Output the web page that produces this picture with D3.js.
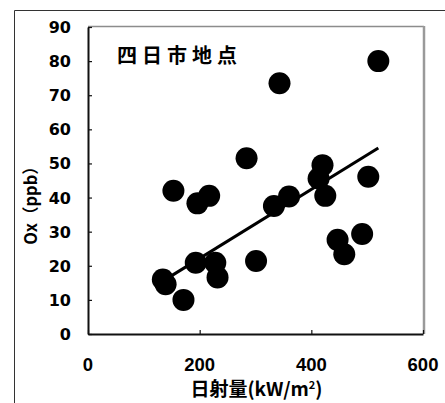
<!DOCTYPE html>
<html>
<head>
<meta charset="utf-8">
<script src="https://cdn.jsdelivr.net/npm/d3@7"></script>
<style>
  html, body { margin: 0; padding: 0; background: #fff; }
  svg { display: block; }
</style>
</head>
<body>
<svg id="chart" width="445" height="403"></svg>
<script>
// Daily solar radiation (kW/m²) vs. oxidant concentration Ox (ppb), Yokkaichi station
const radiation = [520, 343, 284, 153, 196, 217, 333, 360, 420, 413, 425, 502, 447, 459, 491, 301, 193, 228, 232, 134, 139, 171];
const oxidant   = [80, 73.5, 51.5, 42, 38.3, 40.5, 37.5, 40.3, 49.5, 45.6, 40.5, 46.1, 27.6, 23.4, 29.3, 21.4, 20.9, 20.9, 16.6, 16.0, 14.6, 10];

// Linear trend line endpoints (x from min to max radiation)
const trendX = [134, 520];
const trendY = [15.5, 54.5];

const xTicks = [0, 200, 400, 600];
const yTicks = [0, 10, 20, 30, 40, 50, 60, 70, 80, 90];
const title = "四日市地点";
const xTitle = "日射量(kW/m";
const yTitle = "Ox（ppb）";

const svg = d3.select("#chart");
const plot = { left: 88, right: 423, top: 27, bottom: 334 };

const x = d3.scaleLinear().domain([0, 600]).range([plot.left, plot.right]);
const y = d3.scaleLinear().domain([0, 90]).range([plot.bottom, plot.top]);

const latinFont = "'Liberation Sans', Arial, sans-serif";
const wideFont = "'DejaVu Sans', sans-serif";
const cjkFont = "'Noto Sans CJK JP', 'Noto Sans CJK SC', sans-serif";

// Outer frame (left and top edges)
svg.append("path")
  .attr("d", "M14.5,403 L14.5,10.5 L445,10.5")
  .attr("fill", "none").attr("stroke", "#333").attr("stroke-width", 1);

// Plot area border: grey top and right
svg.append("line")
  .attr("x1", plot.left).attr("x2", plot.right + 1)
  .attr("y1", plot.top - 0.5).attr("y2", plot.top - 0.5)
  .attr("stroke", "#8c8c8c").attr("stroke-width", 1.5);
svg.append("line")
  .attr("x1", plot.right + 1).attr("x2", plot.right + 1)
  .attr("y1", plot.top - 1).attr("y2", plot.bottom)
  .attr("stroke", "#9a9a9a").attr("stroke-width", 2.5);

// Axes with inward ticks
const xAxis = svg.append("g")
  .attr("transform", `translate(0,${plot.bottom})`)
  .call(d3.axisBottom(x).tickValues(xTicks).tickSizeInner(-4).tickSizeOuter(0).tickFormat(""));
const yAxis = svg.append("g")
  .attr("transform", `translate(${plot.left},0)`)
  .call(d3.axisLeft(y).tickValues(yTicks).tickSizeInner(-4).tickSizeOuter(0).tickFormat(""));
[xAxis, yAxis].forEach(g => {
  g.select(".domain").attr("stroke", "#111").attr("stroke-width", 2);
  g.selectAll(".tick line").attr("stroke", "#111").attr("stroke-width", 1.2);
});

// Tick labels
svg.append("g").selectAll("text").data(yTicks).join("text")
  .attr("x", 71).attr("y", d => y(d) + 0.5)
  .attr("text-anchor", "end").attr("dominant-baseline", "central")
  .attr("font-family", wideFont).attr("font-weight", "bold").attr("font-size", 16)
  .attr("fill", "#000").text(d => d);

svg.append("g").selectAll("text").data(xTicks).join("text")
  .attr("x", d => x(d)).attr("y", 371)
  .attr("text-anchor", "middle")
  .attr("font-family", latinFont).attr("font-weight", "bold").attr("font-size", 18.5)
  .attr("fill", "#000").text(d => d);

// Trend line
svg.append("line")
  .attr("x1", x(trendX[0])).attr("y1", y(trendY[0]))
  .attr("x2", x(trendX[1])).attr("y2", y(trendY[1]))
  .attr("stroke", "#000").attr("stroke-width", 3);

// Scatter points
svg.append("g").selectAll("circle").data(radiation.map((r, i) => [r, oxidant[i]])).join("circle")
  .attr("cx", d => x(d[0])).attr("cy", d => y(d[1]))
  .attr("r", 11).attr("fill", "#000");

// Title inside plot
svg.append("text")
  .attr("x", 117).attr("y", 63)
  .attr("font-family", cjkFont).attr("font-weight", "bold").attr("font-size", 20)
  .attr("letter-spacing", 5)
  .attr("fill", "#000").text(title);

// Axis titles
const xt = svg.append("text")
  .attr("x", (plot.left + plot.right) / 2 + 1).attr("y", 396)
  .attr("text-anchor", "middle")
  .attr("font-family", cjkFont).attr("font-weight", "bold").attr("font-size", 19)
  .attr("fill", "#000");
xt.append("tspan").text(xTitle);
xt.append("tspan").attr("font-size", 11).attr("dy", -7).text("2");
xt.append("tspan").attr("dy", 7).text(")");

svg.append("text")
  .attr("transform", `translate(30,201.5) rotate(-90)`)
  .attr("text-anchor", "middle").attr("dominant-baseline", "central")
  .attr("font-family", cjkFont).attr("font-weight", "bold").attr("font-size", 16.5)
  .attr("fill", "#000").text(yTitle);
</script>
</body>
</html>
